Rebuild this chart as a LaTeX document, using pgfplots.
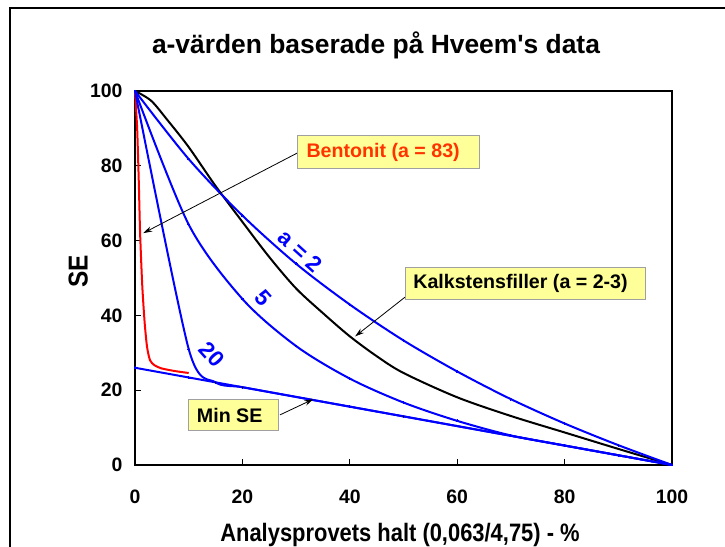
\documentclass[border=0pt]{standalone}
\usepackage{fontspec}
\setmainfont{Liberation Sans}[Ligatures=TeXOff]
\usepackage{pgfplots}
\pgfplotsset{compat=1.18}
\usetikzlibrary{arrows.meta}
\definecolor{boxyellow}{HTML}{FFFF99}
\definecolor{boxgray}{HTML}{A0A0A0}
\definecolor{bentred}{HTML}{FF3300}
\definecolor{lblue}{HTML}{0000FF}
\begin{document}
\begin{tikzpicture}[x=1bp,y=1bp]
\useasboundingbox (0,0) rectangle (725,547);
\draw[line width=2.6bp] (10,-10) -- (10,539) -- (740,539);
\node[anchor=base, inner sep=0pt, font=\fontsize{26.5}{30}\selectfont\bfseries] at (376,493) {a-värden baserade på Hveem's data};
\begin{axis}[at={(135bp,82bp)}, anchor=south west, scale only axis,
  width=537bp, height=374bp,
  xmin=0, xmax=100, ymin=0, ymax=100,
  xtick={0,20,...,100}, ytick={0,20,...,100},
  tick align=inside, tick pos=left, major tick length=6bp,
  axis line style={line width=1.2bp, black},
  tick style={line width=1bp, black},
  /pgf/number format/assume math mode=true,
  tick label style={font=\fontsize{19.5}{22}\selectfont\bfseries},
  xticklabel style={yshift=-21bp},
  yticklabel style={xshift=-9bp},
  xlabel={\scalebox{1}[1.15]{Analysprovets halt (0,063/4,75) - \%}},
  ylabel={\scalebox{1}[1.12]{SE}},
  xlabel style={font=\fontsize{22}{24}\selectfont\bfseries, at={(axis description cs:0.4935,-0.204)}, anchor=base},
  ylabel style={font=\fontsize{24.5}{26}\selectfont\bfseries, at={(axis description cs:-0.1056,0.517)}, anchor=center},
  clip=false,
  every axis plot/.append style={line width=2bp},
  dots/.style={mark=*, mark size=0.9bp, mark options={fill=black, draw=none, line width=0pt}},
]
% Kalkstensfiller (black)
\addplot[black, smooth, tension=0.5] coordinates {
(0,100) (3,97.4) (6,92.3) (10,85) (15,74.6) (20,65) (25,55.6) (30,47.2) (35,40.6) (40,34.4) (45,29.1) (50,24.6) (60,18.1) (70,13.1) (80,8.7) (90,4.3) (100,0)};
% Bentonit (red)
\addplot[red, smooth, tension=0.4] coordinates {
(0,100) (0.4,90) (0.7,76) (0.95,62) (1.35,48) (1.8,38) (2.25,31.5) (2.8,28) (3.6,26.7) (5,25.8) (7.5,25.1) (10,24.6)};
% Min SE
\addplot[lblue, dots] coordinates {
(0,26) (10,23.4) (20,20.8) (30,18.2) (40,15.6) (50,13) (60,10.4) (70,7.8) (80,5.2) (90,2.6) (100,0)};
% a = 2
\addplot[lblue, smooth, dots] coordinates {
(0,100) (10,81.8) (20,66.7) (30,53.8) (40,42.9) (50,33.3) (60,25) (70,17.6) (80,11.1) (90,5.3) (100,0)};
% a = 5
\addplot[lblue, smooth, dots] coordinates {
(0,100) (10,64.3) (20,44.4) (30,31.8) (40,23.1) (50,16.7) (60,11.8) (70,7.9) (80,5.2) (90,2.6) (100,0)};
% a = 20
\addplot[lblue, smooth, tension=0.45, dots] coordinates {
(0,100) (10,31) (15,22.1) (20,20.8) (30,18.2) (40,15.6) (50,13) (60,10.4) (70,7.8) (80,5.2) (90,2.6) (100,0)};

% curve labels
\node[text=lblue, font=\fontsize{22.5}{24}\selectfont\bfseries, rotate=-42, inner sep=0pt] at (axis cs:30.8,57.2) {a = 2};
\node[text=lblue, font=\fontsize{22.5}{24}\selectfont\bfseries, rotate=-48, inner sep=0pt] at (axis cs:23.9,44.6) {5};
\node[text=lblue, font=\fontsize{22.5}{24}\selectfont\bfseries, rotate=-48, inner sep=0pt] at (axis cs:14.3,29.6) {20};

% callouts
\draw[line width=0.8bp, -{Stealth[length=9bp,width=5.5bp]}] (axis cs:30.2,83.4) -- (axis cs:1.55,62);
\draw[line width=0.8bp, -{Stealth[length=9bp,width=5.5bp]}] (axis cs:50.3,44.9) -- (axis cs:41,34.4);
\draw[line width=0.8bp, -{Stealth[length=9bp,width=5.5bp]}] (axis cs:27,13.4) -- (axis cs:33.2,17.6);

\filldraw[fill=boxyellow, draw=boxgray, line width=1bp] (axis cs:30.2,88) rectangle (axis cs:64.2,79.3);
\node[anchor=west, inner sep=0pt, text=bentred, font=\fontsize{19.7}{22}\selectfont\bfseries] at (axis cs:31.9,83.65) {Bentonit (a = 83)};

\filldraw[fill=boxyellow, draw=boxgray, line width=1bp] (axis cs:50.4,52.9) rectangle (axis cs:95.1,44.3);
\node[anchor=west, inner sep=0pt, font=\fontsize{19.7}{22}\selectfont\bfseries] at (axis cs:51.8,48.6) {Kalkstensfiller (a = 2-3)};

\filldraw[fill=boxyellow, draw=boxgray, line width=1bp] (axis cs:9.93,17.56) rectangle (axis cs:26.7,9.17);
\node[anchor=west, inner sep=0pt, font=\fontsize{19.7}{22}\selectfont\bfseries] at (axis cs:11.5,13.36) {Min SE};
\end{axis}
\end{tikzpicture}
\end{document}
